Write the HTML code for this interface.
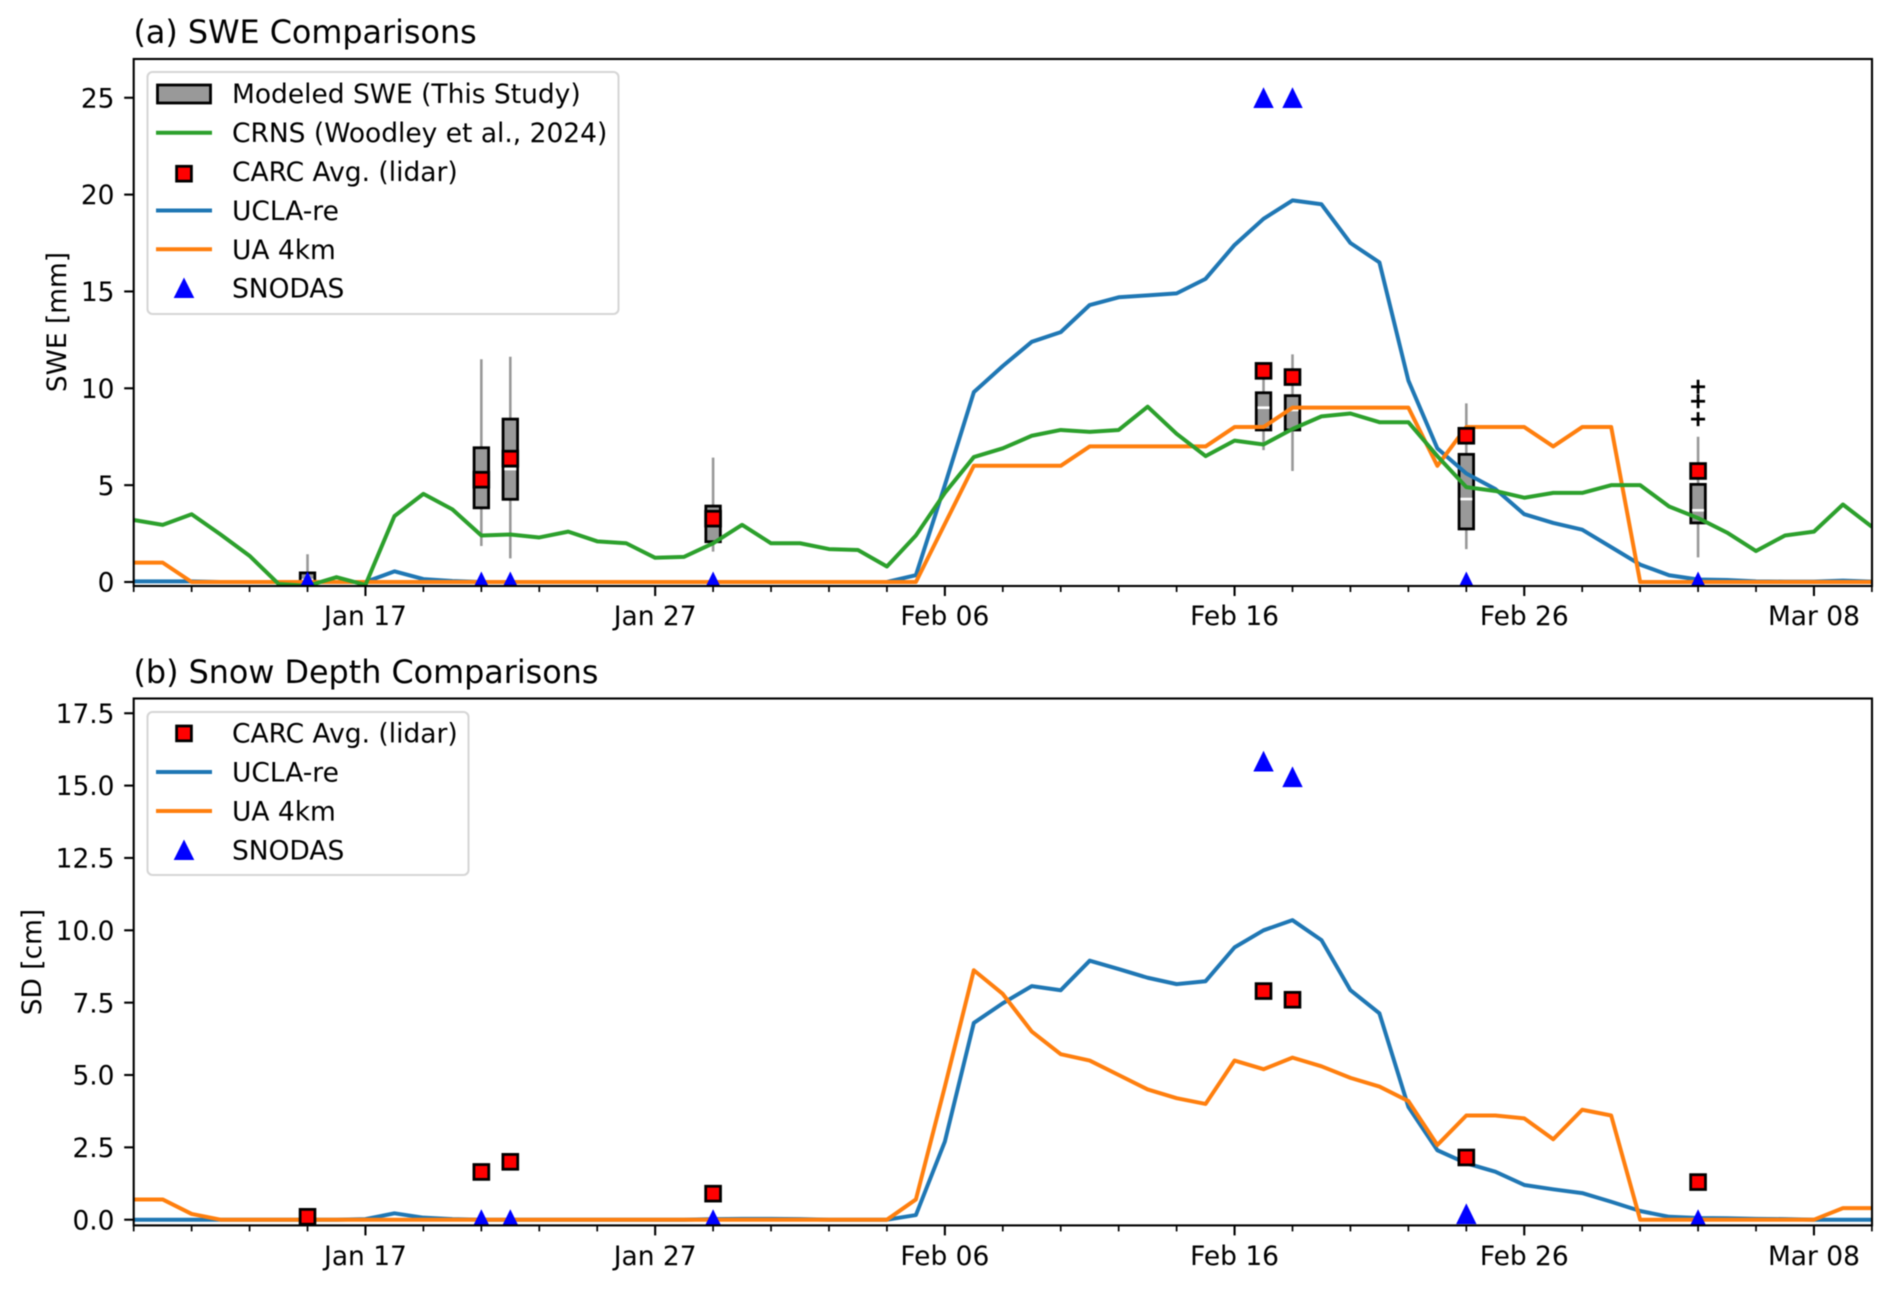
<!DOCTYPE html>
<html lang="en">
<head>
<meta charset="utf-8">
<title>SWE and Snow Depth Comparisons</title>
<style>
html,body{margin:0;padding:0;background:#fff;}
#figure{display:block;width:1892px;height:1289px;background:#fff;filter:blur(0.45px);}
text{font-family:"DejaVu Sans","Liberation Sans",sans-serif;fill:#000;}
.tick{font-size:26.45px;}
.leg{font-size:26.47px;}
.ttl{font-size:31.8px;}
</style>
</head>
<body>
<svg id="figure" xmlns="http://www.w3.org/2000/svg" width="1892" height="1289" viewBox="0 0 1892 1289">
  <defs>
    <clipPath id="clip-a"><rect x="133.7" y="59" width="1738.3" height="527"/></clipPath>
    <clipPath id="clip-b"><rect x="133.7" y="698.5" width="1738.3" height="527"/></clipPath>
  </defs>

  <text class="ttl" x="133.5" y="43">(a) SWE Comparisons</text>
  <text class="ttl" x="133.5" y="683">(b) Snow Depth Comparisons</text>
  <text class="tick" transform="translate(66,322) rotate(-90)" text-anchor="middle">SWE [mm]</text>
  <text class="tick" transform="translate(41,962) rotate(-90)" text-anchor="middle">SD [cm]</text>

  <g id="panel-a-marks" clip-path="url(#clip-a)"></g>
  <g id="panel-b-marks" clip-path="url(#clip-b)"></g>
  <g id="panel-a-axes"></g>
  <g id="panel-b-axes"></g>

  <g>
    <rect x="147.5" y="72" width="471" height="242" rx="5" fill="#fff" fill-opacity="0.8" stroke="#d6d6d6" stroke-width="2.1"/>
    <rect x="157.5" y="85" width="53" height="18" fill="#999" stroke="#000" stroke-width="2.8"/>
    <text class="leg" x="232" y="103">Modeled SWE (This Study)</text>
    <line x1="156" x2="212" y1="132.7" y2="132.7" stroke="#2ca02c" stroke-width="4"/>
    <text class="leg" x="232" y="142">CRNS (Woodley et al., 2024)</text>
    <rect x="176.6" y="166.3" width="14.8" height="14.8" fill="#f00" stroke="#000" stroke-width="2.8"/>
    <text class="leg" x="232" y="181">CARC Avg. (lidar)</text>
    <line x1="156" x2="212" y1="210.5" y2="210.5" stroke="#1f77b4" stroke-width="4"/>
    <text class="leg" x="232" y="220">UCLA-re</text>
    <line x1="156" x2="212" y1="249.3" y2="249.3" stroke="#ff7f0e" stroke-width="4"/>
    <text class="leg" x="232" y="259">UA 4km</text>
    <polygon points="184,277.5 173.7,298 194.3,298" fill="#00f"/>
    <text class="leg" x="232" y="297.5">SNODAS</text>
  </g>

  <g>
    <rect x="147.5" y="712" width="321" height="163" rx="5" fill="#fff" fill-opacity="0.8" stroke="#d6d6d6" stroke-width="2.1"/>
    <rect x="176.6" y="726" width="14.8" height="14.8" fill="#f00" stroke="#000" stroke-width="2.8"/>
    <text class="leg" x="232" y="742.5">CARC Avg. (lidar)</text>
    <line x1="156" x2="212" y1="772" y2="772" stroke="#1f77b4" stroke-width="4"/>
    <text class="leg" x="232" y="781.5">UCLA-re</text>
    <line x1="156" x2="212" y1="811" y2="811" stroke="#ff7f0e" stroke-width="4"/>
    <text class="leg" x="232" y="820.5">UA 4km</text>
    <polygon points="184,839.5 173.7,860 194.3,860" fill="#00f"/>
    <text class="leg" x="232" y="859.3">SNODAS</text>
  </g>
</svg>

<script>
// Chart data: daily series begin on seriesStart
var seriesStart = '2023-01-09';
var xTickDates = ['2023-01-17','2023-01-27','2023-02-06','2023-02-16','2023-02-26','2023-03-08'];
var xTickLabels = ['Jan 17','Jan 27','Feb 06','Feb 16','Feb 26','Mar 08'];
var sweTicks = [0,5,10,15,20,25];
var sweTickLabels = ['0','5','10','15','20','25'];
var sdTicks = [0,2.5,5,7.5,10,12.5,15,17.5];
var sdTickLabels = ['0.0','2.5','5.0','7.5','10.0','12.5','15.0','17.5'];

var sweCrns = [3.2,2.95,3.5,2.45,1.35,-0.1,-0.2,0.25,-0.15,3.4,4.55,3.75,2.4,2.45,2.3,2.6,2.1,2.0,1.25,1.3,2.0,2.95,2.0,
  2.0,1.7,1.65,0.8,2.4,4.6,6.45,6.9,7.55,7.85,7.75,7.85,9.05,7.65,6.5,7.3,7.1,7.9,8.55,8.7,8.25,8.25,6.5,4.9,4.7,4.35,4.6,4.6,
  5.0,5.0,3.9,3.3,2.55,1.6,2.4,2.6,4.0,2.85];
var sweUcla = [0.03,0.03,0.03,0,0,0,0,0,0,0.55,0.15,0.05,0,0,0,0,0,0,0,0,0,0,0,
  0,0,0,0,0.35,5,9.8,11.15,12.4,12.9,14.3,14.7,14.8,14.9,15.65,17.4,18.75,19.7,19.5,17.5,16.5,10.4,6.9,5.6,4.8,3.5,3.05,2.7,
  1.8,0.9,0.35,0.13,0.1,0.03,0.02,0.02,0.07,0.02];
var sweUa = [1,1,0,0,0,0,0,0,0,0,0,0,0,0,0,0,0,0,0,0,0,0,0,
  0,0,0,0,0,3,6,6,6,6,7,7,7,7,7,8,8,9,9,9,9,9,6,8,8,8,7,8,
  8,0,0,0,0,0,0,0,0,0];
var sdUcla = [0,0,0,0,0,0,0,0,0.02,0.22,0.07,0.02,0,0,0,0,0,0,0,0,0.02,0.03,0.03,
  0.02,0,0,0,0.16,2.7,6.8,7.48,8.07,7.93,8.95,8.66,8.36,8.14,8.24,9.41,10.0,10.35,9.66,7.93,7.13,3.9,2.4,1.95,1.66,1.2,1.05,0.92,
  0.62,0.3,0.1,0.06,0.05,0.03,0.02,0,0,0];
var sdUa = [0.7,0.7,0.2,0,0,0,0,0,0,0,0,0,0,0,0,0,0,0,0,0,0,0,0,
  0,0,0,0,0.7,4.6,8.62,7.8,6.5,5.72,5.5,5.0,4.5,4.2,4.0,5.5,5.2,5.6,5.3,4.9,4.6,4.1,2.58,3.6,3.6,3.5,2.78,3.8,
  3.6,0,0,0,0,0,0,0,0.4,0.4];

var obsDates = ['2023-01-15','2023-01-21','2023-01-22','2023-01-29','2023-02-17','2023-02-18','2023-02-24','2023-03-04'];
var boxQ1 = [-0.05,3.83,4.27,2.08,7.85,7.85,2.74,3.05];
var boxMedian = [0.1,5.3,5.83,3.2,9.0,8.88,4.28,3.7];
var boxQ3 = [0.47,6.93,8.41,3.92,9.77,9.62,6.59,5.04];
var whiskerLow = [0,1.86,1.22,1.57,6.81,5.73,1.7,1.27];
var whiskerHigh = [1.43,11.5,11.63,6.42,10.9,11.75,9.22,7.5];
var fliersMar04 = [10.08,9.33,8.41];
var fliersDate = '2023-03-04';
var sweCarc = [null,5.28,6.37,3.27,10.9,10.58,7.55,5.73];
var sweSnodas = [0,0,0,0,25,25,0,0];
var sdCarc = [0.1,1.65,2.0,0.9,7.9,7.6,2.15,1.3];
var sdSnodas = [null,0,0,0,15.84,15.3,0.2,0];

var SVGNS = 'http://www.w3.org/2000/svg';
var xLeft = 133.7, xRight = 1872, pxPerDay = 28.97;
var startMs = Date.parse(seriesStart + 'T00:00:00Z');
function dayIndex(dateStr){ return (Date.parse(dateStr + 'T00:00:00Z') - startMs) / 86400000; }
function xScale(day){ return xLeft + day * pxPerDay; }
function ySwe(v){ return 582 - v * 19.37; }
function ySd(v){ return 1219.7 - v * 28.94; }
function make(tag, parent, attrs){
  var el = document.createElementNS(SVGNS, tag);
  for (var k in attrs){ el.setAttribute(k, attrs[k]); }
  parent.appendChild(el);
  return el;
}
function linePoints(values, yFn){
  return values.map(function(v, i){ return xScale(i).toFixed(2) + ',' + yFn(v).toFixed(2); }).join(' ');
}
function drawSeries(parent, values, yFn, color, name){
  var el = make('polyline', parent, {points: linePoints(values, yFn), fill:'none', stroke:color, 'stroke-width':4, 'stroke-linejoin':'round'});
  
  
}
function drawSquares(parent, values, yFn, name){
  values.forEach(function(v, i){
    if (v === null) return;
    var cx = xScale(dayIndex(obsDates[i])), cy = yFn(v);
    var el = make('rect', parent, {x:cx-7.4, y:cy-7.4, width:14.8, height:14.8, fill:'#f00', stroke:'#000', 'stroke-width':2.8});
    
    
  });
}
function drawTriangles(parent, values, yFn, name){
  values.forEach(function(v, i){
    if (v === null) return;
    var cx = xScale(dayIndex(obsDates[i])), cy = yFn(v);
    var pts = cx + ',' + (cy-10.5) + ' ' + (cx-10.2) + ',' + (cy+10.2) + ' ' + (cx+10.2) + ',' + (cy+10.2);
    var el = make('polygon', parent, {points: pts, fill:'#00f'});
    
    
  });
}
function drawBoxes(parent){
  obsDates.forEach(function(d, i){
    var cx = xScale(dayIndex(d));
    var w = make('line', parent, {x1:cx, x2:cx, y1:ySwe(whiskerLow[i]), y2:ySwe(whiskerHigh[i]), stroke:'#999', 'stroke-width':2.6});
    
    
    var top = ySwe(boxQ3[i]), bot = ySwe(boxQ1[i]);
    var b = make('rect', parent, {x:cx-7.25, y:top, width:14.5, height:bot-top, fill:'#999', stroke:'#000', 'stroke-width':2.8});
    
    
    var m = make('line', parent, {x1:cx-6, x2:cx+6, y1:ySwe(boxMedian[i]), y2:ySwe(boxMedian[i]), stroke:'#fff', 'stroke-width':2.6});
    
    
  });
  fliersMar04.forEach(function(v){
    var cx = xScale(dayIndex(fliersDate)), cy = ySwe(v);
    var f = make('path', parent, {d:'M'+(cx-7)+' '+cy+'H'+(cx+7)+'M'+cx+' '+(cy-7)+'V'+(cy+7), fill:'none', stroke:'#000', 'stroke-width':2.8});
    
    
  });
}
function drawAxes(parent, top, bottom, yFn, yTicks, yLabels, labelBaseline, suffix){
  var totalDays = (xRight - xLeft) / pxPerDay;
  var majorDays = xTickDates.map(dayIndex);
  for (var d = 0; d <= totalDays + 0.01; d += 2){
    if (majorDays.indexOf(d) >= 0) continue;
    var minor = make('line', parent, {x1:xScale(d), x2:xScale(d), y1:bottom, y2:bottom+6, stroke:'#000', 'stroke-width':1.7});
    
    
  }
  xTickDates.forEach(function(ds, i){
    var x = xScale(dayIndex(ds));
    var t = make('line', parent, {x1:x, x2:x, y1:bottom, y2:bottom+10, stroke:'#000', 'stroke-width':2.1});
    
    
    var l = make('text', parent, {x:x, y:labelBaseline, 'text-anchor':'middle', 'class':'tick'});
    l.textContent = xTickLabels[i];
    
    
  });
  yTicks.forEach(function(v, i){
    var y = yFn(v);
    var t = make('line', parent, {x1:xLeft-9.5, x2:xLeft, y1:y, y2:y, stroke:'#000', 'stroke-width':2.1});
    
    
    var l = make('text', parent, {x:114.5, y:y+9.6, 'text-anchor':'end', 'class':'tick'});
    l.textContent = yLabels[i];
    
    
  });
  var frame = make('rect', parent, {x:xLeft, y:top, width:xRight-xLeft, height:bottom-top, fill:'none', stroke:'#000', 'stroke-width':2.1});
  
  
}

var marksA = document.getElementById('panel-a-marks');
var marksB = document.getElementById('panel-b-marks');
drawBoxes(marksA);
drawSeries(marksA, sweUcla, ySwe, '#1f77b4', 'ucla-re-swe-line');
drawSeries(marksA, sweUa, ySwe, '#ff7f0e', 'ua-4km-swe-line');
drawSeries(marksA, sweCrns, ySwe, '#2ca02c', 'crns-swe-line');
drawSquares(marksA, sweCarc, ySwe, 'carc-swe-marker');
drawTriangles(marksA, sweSnodas, ySwe, 'snodas-swe-marker');
drawSeries(marksB, sdUcla, ySd, '#1f77b4', 'ucla-re-depth-line');
drawSeries(marksB, sdUa, ySd, '#ff7f0e', 'ua-4km-depth-line');
drawSquares(marksB, sdCarc, ySd, 'carc-depth-marker');
drawTriangles(marksB, sdSnodas, ySd, 'snodas-depth-marker');
drawAxes(document.getElementById('panel-a-axes'), 59, 586, ySwe, sweTicks, sweTickLabels, 625, 'panel-a');
drawAxes(document.getElementById('panel-b-axes'), 698.5, 1225.4, ySd, sdTicks, sdTickLabels, 1265, 'panel-b');
</script>
</body>
</html>
